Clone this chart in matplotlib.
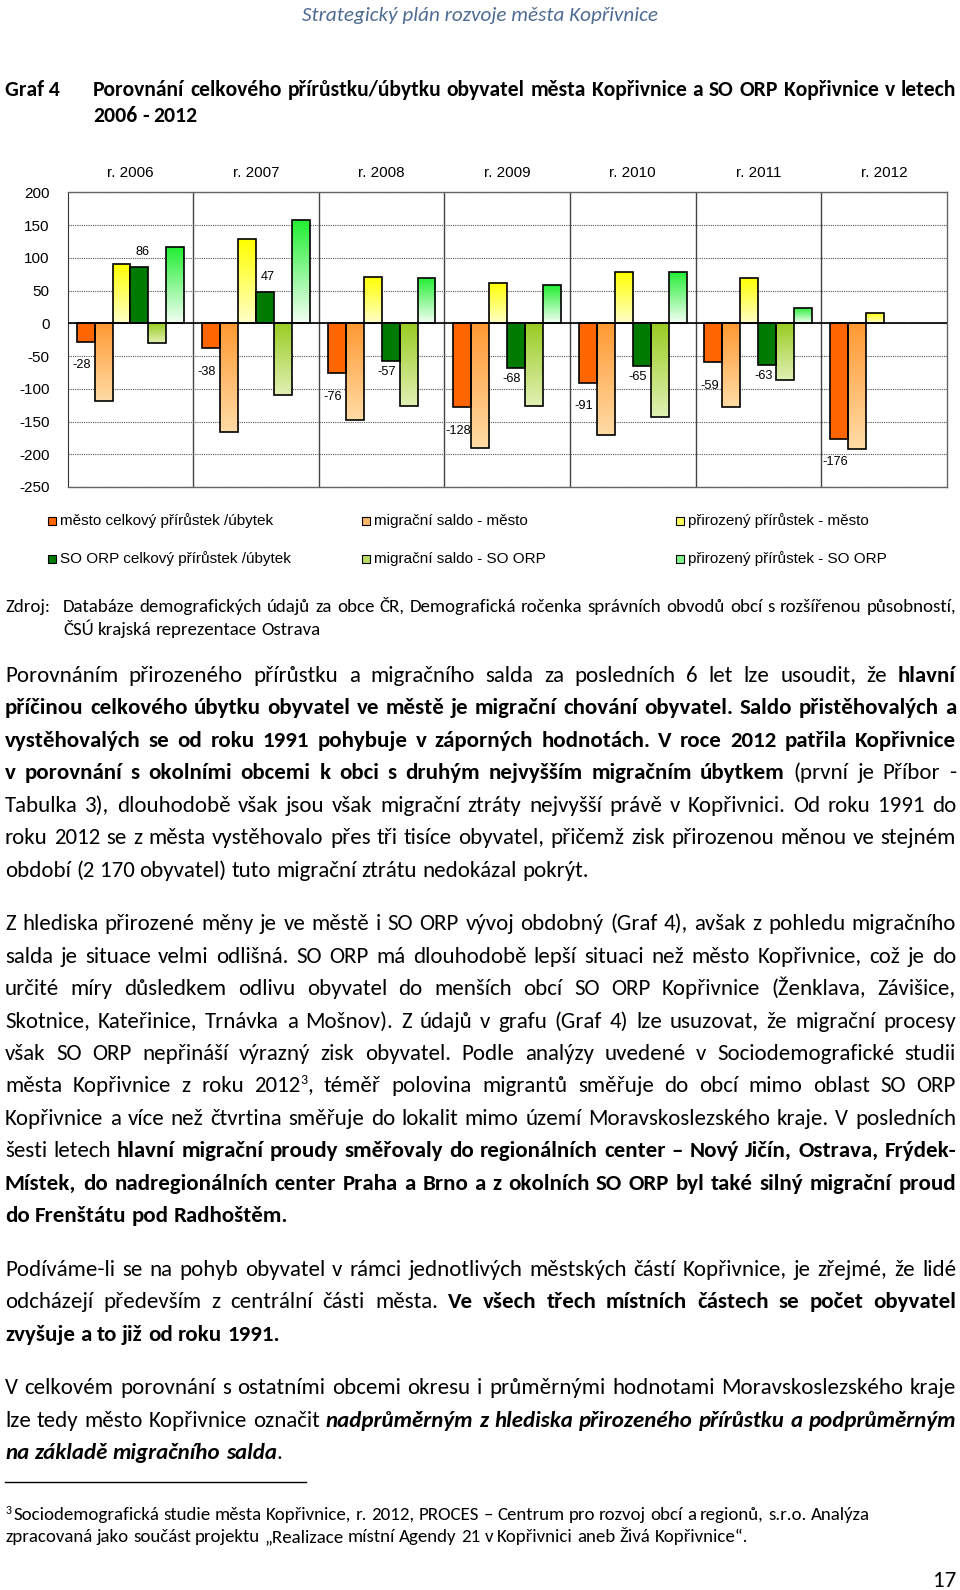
"""Graf 4 page: population change of Kopřivnice vs SO ORP 2006-2012, with the text below."""
import matplotlib

matplotlib.use("Agg")  # headless
import matplotlib.pyplot as plt  # noqa: E402
import numpy as np  # noqa: E402
from matplotlib import font_manager  # noqa: E402
from matplotlib.colors import LinearSegmentedColormap  # noqa: E402
from matplotlib.lines import Line2D  # noqa: E402
from matplotlib.patches import Rectangle  # noqa: E402

# ---- chart data ----
years = ["r. 2006", "r. 2007", "r. 2008", "r. 2009", "r. 2010", "r. 2011", "r. 2012"]
series = [
    "město celkový přírůstek /úbytek",
    "migrační saldo - město",
    "přirozený přírůstek - město",
    "SO ORP celkový přírůstek /úbytek",
    "migrační saldo - SO ORP",
    "přirozený přírůstek - SO ORP",
]
mesto_celkem = [-28, -38, -76, -128, -91, -59, -176]
mesto_migrace = [-119, -166, -147, -190, -170, -128, -192]
mesto_prirozeny = [91, 128, 71, 62, 79, 69, 16]
orp_celkem = [86, 47, -57, -68, -65, -63, np.nan]
orp_migrace = [-30, -110, -126, -126, -143, -87, np.nan]
orp_prirozeny = [116, 157, 69, 58, 78, 24, np.nan]
y_ticks = list(range(-250, 201, 50))

# (top colour, bottom colour) -> equal means solid fill
FILLS = [
    ("#ff6600", "#ff6600"),
    ("#ff9933", "#ffdca6"),
    ("#ffff00", "#ffffc8"),
    ("#007a00", "#007a00"),
    ("#99cc22", "#e2f0b4"),
    ("#22ee33", "#f4fff4"),
]

# ---- page text (markup: *bold*, _italic_, ^superscript^) ----
header = "Strategický plán rozvoje města Kopřivnice"
title_lines = [
    "Porovnání celkového přírůstku/úbytku obyvatel města Kopřivnice a SO ORP Kopřivnice v letech",
    "2006 - 2012",
]
source_lines = [
    "Databáze demografických údajů za obce ČR, Demografická ročenka správních obvodů obcí s rozšířenou působností,",
    "ČSÚ krajská reprezentace Ostrava",
]
paragraphs = [
    [
        "Porovnáním přirozeného přírůstku a migračního salda za posledních 6 let lze usoudit, že *hlavní*",
        "*příčinou celkového úbytku obyvatel ve městě je migrační chování obyvatel. Saldo přistěhovalých a*",
        "*vystěhovalých se od roku 1991 pohybuje v záporných hodnotách. V roce 2012 patřila Kopřivnice*",
        "*v porovnání s okolními obcemi k obci s druhým nejvyšším migračním úbytkem* (první je Příbor -",
        "Tabulka 3), dlouhodobě však jsou však migrační ztráty nejvyšší právě v Kopřivnici. Od roku 1991 do",
        "roku 2012 se z města vystěhovalo přes tři tisíce obyvatel, přičemž zisk přirozenou měnou ve stejném",
        "období (2 170 obyvatel) tuto migrační ztrátu nedokázal pokrýt.",
    ],
    [
        "Z hlediska přirozené měny je ve městě i SO ORP vývoj obdobný (Graf 4), avšak z pohledu migračního",
        "salda je situace velmi odlišná. SO ORP má dlouhodobě lepší situaci než město Kopřivnice, což je do",
        "určité míry důsledkem odlivu obyvatel do menších obcí SO ORP Kopřivnice (Ženklava, Závišice,",
        "Skotnice, Kateřinice, Trnávka a Mošnov). Z údajů v grafu (Graf 4) lze usuzovat, že migrační procesy",
        "však SO ORP nepřináší výrazný zisk obyvatel. Podle analýzy uvedené v Sociodemografické studii",
        "města Kopřivnice z roku 2012^3^, téměř polovina migrantů směřuje do obcí mimo oblast SO ORP",
        "Kopřivnice a více než čtvrtina směřuje do lokalit mimo území Moravskoslezského kraje. V posledních",
        "šesti letech *hlavní migrační proudy směřovaly do regionálních center – Nový Jičín, Ostrava, Frýdek-*",
        "*Místek, do nadregionálních center Praha a Brno a z okolních SO ORP byl také silný migrační proud*",
        "*do Frenštátu pod Radhoštěm.*",
    ],
    [
        "Podíváme-li se na pohyb obyvatel v rámci jednotlivých městských částí Kopřivnice, je zřejmé, že lidé",
        "odcházejí především z centrální části města. *Ve všech třech místních částech se počet obyvatel*",
        "*zvyšuje a to již od roku 1991.*",
    ],
    [
        "V celkovém porovnání s ostatními obcemi okresu i průměrnými hodnotami Moravskoslezského kraje",
        "lze tedy město Kopřivnice označit *_nadprůměrným z hlediska přirozeného přírůstku a podprůměrným_*",
        "*_na základě migračního salda_*.",
    ],
]
para_top = [674.5, 922.7, 1268.5, 1387.0]  # centre of first line, px from top
footnotes = [
    "Sociodemografická studie města Kopřivnice, r. 2012, PROCES – Centrum pro rozvoj obcí a regionů, s.r.o. Analýza",
    "zpracovaná jako součást projektu „Realizace místní Agendy 21 v Kopřivnici aneb Živá Kopřivnice“.",
]

W, H = 960, 1590
LEFT, RIGHT = 5.0, 956.0
PITCH = 32.45
PUNCT = ",.;:"

avail = {f.name for f in font_manager.fontManager.ttflist}
BODY = next((f for f in ["Carlito", "Lato", "Open Sans"] if f in avail), "DejaVu Sans")
ARIAL = "Liberation Sans" if "Liberation Sans" in avail else "DejaVu Sans"
BODY_FAM = [BODY, "DejaVu Sans"]
ARIAL_FAM = [ARIAL, "DejaVu Sans"]

fig = plt.figure(figsize=(W / 100, H / 100), dpi=100)
fig.patch.set_facecolor("white")
renderer = fig.canvas.get_renderer()


def fx(x):
    return x / W


def fy(y):
    # whole pixels keep word baselines on one line from jittering
    return 1 - round(y) / H


def text_width(s, **kw):
    t = fig.text(0, 0, s, **kw)
    w = t.get_window_extent(renderer).width
    t.remove()
    return w


def fit(s, target, **kw):
    return 10 * target / text_width(s, fontsize=10, **kw)


def style_kw(st, size):
    return dict(
        family=BODY_FAM,
        fontsize=size * (0.62 if "s" in st else 1),
        fontweight="bold" if "b" in st else "normal",
        fontstyle="italic" if "i" in st else "normal",
    )


_vshift = {}


def punct_vshift(t, st, size):
    """A trailing comma/period can move a word by a pixel when Agg rounds its
    bitmap; render the word with and without it and return the offset."""
    key = (t, st, round(size, 3))
    if key in _vshift:
        return _vshift[key]
    core = t.rstrip(PUNCT)
    shift = 0
    if core:
        kw = style_kw(st, size)
        scratch = plt.figure(figsize=(4.0, 1.0), dpi=100)
        scratch.text(0.02, 0.70, core, va="baseline", **kw)
        scratch.text(0.02, 0.20, t, va="baseline", **kw)
        scratch.canvas.draw()
        ink = np.asarray(scratch.canvas.buffer_rgba())[:, :, 0] < 140
        plt.close(scratch)
        r1 = np.where(ink[:50].any(axis=1))[0]
        r2 = np.where(ink[50:].any(axis=1))[0]
        if len(r1) and len(r2):
            shift = int(r2.min() - r1.min())
    _vshift[key] = shift
    return shift


def tokenize(line):
    """Split a marked-up line into words, each a list of (text, style) runs."""
    state = {"*": False, "_": False, "^": False}
    words, word = [], []
    for ch in line:
        if ch in state:
            state[ch] = not state[ch]
            continue
        st = ("b" if state["*"] else "") + ("i" if state["_"] else "") + ("s" if state["^"] else "")
        if ch == " ":
            if word:
                words.append(word)
                word = []
            continue
        if word and word[-1][1] == st:
            word[-1] = (word[-1][0] + ch, st)
        else:
            word.append((ch, st))
    if word:
        words.append(word)
    return words


def draw_line(line, x0, x1, baseline, size, justify, color="black", base_style=""):
    words = tokenize(line)
    words = [[(t, base_style + st) for t, st in w] for w in words]
    widths = [[text_width(t, **style_kw(st, size)) for t, st in w] for w in words]
    total = sum(sum(ws) for ws in widths)
    space = text_width("a a", **style_kw(base_style, size)) - text_width("aa", **style_kw(base_style, size))
    if justify and len(words) > 1:
        gap = (x1 - x0 - total) / (len(words) - 1)
    else:
        gap = space
    x = x0
    for w, ws in zip(words, widths):
        for (t, st), pw in zip(w, ws):
            dy = -0.38 * size * 100 / 72 if "s" in st else 0
            if t[-1] in PUNCT:
                dy -= punct_vshift(t, st, size)
            fig.text(fx(x), fy(baseline + dy), t, ha="left", va="baseline",
                     color=color, **style_kw(st, size))
            x += pw
        x += gap


# ---- header + chart title ----
hsize = fit(header, 354, family=BODY_FAM, fontstyle="italic")
fig.text(0.5, fy(21), header, ha="center", va="baseline", family=BODY_FAM,
         fontstyle="italic", fontsize=hsize, color="#4f6c93")

tsize = fit(title_lines[0], 858, family=BODY_FAM, fontweight="bold")
fig.text(fx(LEFT), fy(96), "Graf 4", ha="left", va="baseline", family=BODY_FAM,
         fontweight="bold", fontsize=tsize)
draw_line(title_lines[0], 93, RIGHT, 96, tsize, True, base_style="b")
draw_line(title_lines[1], 93, RIGHT, 121.5, tsize, False, base_style="b")

# ---- chart ----
ax = fig.add_axes([67.7 / W, 1 - 487 / H, 879 / W, 294.7 / H])
values = [mesto_celkem, mesto_migrace, mesto_prirozeny, orp_celkem, orp_migrace, orp_prirozeny]
x = np.arange(len(years))
width = 0.143
offsets = (np.arange(len(series)) - (len(series) - 1) / 2) * width

for k, (vals, name, (c_top, c_bot)) in enumerate(zip(values, series, FILLS)):
    solid = c_top == c_bot
    bars = ax.bar(x + offsets[k], vals, width, facecolor=c_top if solid else "none",
                  edgecolor="black", linewidth=1.2, zorder=2)
    if solid:
        continue
    cmap = LinearSegmentedColormap.from_list(f"g{k}", [c_top, c_bot])
    for b in bars:
        h = b.get_height()
        if not np.isfinite(h):
            continue
        y0 = b.get_y()
        im = ax.imshow(np.linspace(0, 1, 128).reshape(-1, 1), cmap=cmap, aspect="auto",
                       interpolation="bilinear", zorder=1.5,
                       extent=(b.get_x(), b.get_x() + b.get_width(), min(y0, y0 + h), max(y0, y0 + h)))
        im.set_clip_path(b)

for xi, v in zip(x + offsets[0], mesto_celkem):
    ax.annotate(f"{v:.0f}", (xi, v), xytext=(-3, -17), textcoords="offset points",
                ha="center", va="center", fontsize=9.2, family=ARIAL_FAM)
for xi, v in zip(x + offsets[3], orp_celkem):
    if not np.isfinite(v):
        continue
    ax.annotate(f"{v:.0f}", (xi, v), xytext=(2 if v > 0 else -3, 11 if v > 0 else -8),
                textcoords="offset points", ha="center", va="center", fontsize=9.2, family=ARIAL_FAM)

ax.set_xlim(-0.5, len(years) - 0.5)
ax.set_ylim(y_ticks[0], y_ticks[-1])
ax.set_yticks(y_ticks)
ax.set_yticklabels([str(t) for t in y_ticks], family=ARIAL_FAM, fontsize=11)
ax.set_xticks(x)
ax.set_xticklabels(years, family=ARIAL_FAM, fontsize=11)
ax.xaxis.set_ticks_position("top")
ax.set_xticks(x[:-1] + 0.5, minor=True)
ax.tick_params(axis="x", which="both", length=0, pad=9)
ax.tick_params(axis="y", length=0, pad=13)
ax.grid(axis="y", which="major", color="#555555", linestyle=(0, (1, 1)), linewidth=0.8)
ax.grid(axis="x", which="minor", color="#444444", linestyle="-", linewidth=1.0)
ax.set_axisbelow(True)
ax.axhline(0, color="black", linewidth=1.2, zorder=3)
for side in ["top", "right", "bottom"]:
    ax.spines[side].set_color("#666666")
    ax.spines[side].set_linewidth(1.0)
ax.spines["left"].set_color("#333333")

# ---- legend ----
lsize = fit(series[0], 214, family=ARIAL_FAM)
leg_x = [47.6, 362.0, 676.0]
leg_y = [521.0, 558.7]
for k, (name, (c_top, c_bot)) in enumerate(zip(series, FILLS)):
    col, row = k % 3, k // 3
    lx, ly = leg_x[col], leg_y[row]
    mid = c_top if c_top == c_bot else LinearSegmentedColormap.from_list("m", [c_top, c_bot])(0.45)
    fig.add_artist(Rectangle((fx(lx), fy(ly + 4)), 8 / W, 8 / H, transform=fig.transFigure,
                             facecolor=mid, edgecolor="black", linewidth=0.8))
    fig.text(fx(lx + 12), 1 - ly / H, name, ha="left", va="center", family=ARIAL_FAM, fontsize=lsize)

# ---- source ----
ssize = fit(source_lines[1], 259.5, family=BODY_FAM)
fig.text(fx(LEFT), fy(612), "Zdroj:", ha="left", va="baseline", family=BODY_FAM, fontsize=ssize)
draw_line(source_lines[0], 62.9, RIGHT, 612, ssize, True)
draw_line(source_lines[1], 62.9, RIGHT, 635.3, ssize, False)

# ---- body paragraphs ----
bsize = fit("období (2 170 obyvatel) tuto migrační ztrátu nedokázal pokrýt.", 584, family=BODY_FAM)
for lines, top in zip(paragraphs, para_top):
    for i, line in enumerate(lines):
        draw_line(line, LEFT, RIGHT, top + 7.5 + i * PITCH, bsize, i < len(lines) - 1)

# ---- footnote ----
fig.add_artist(Line2D([fx(LEFT), fx(306)], [fy(1482.5), fy(1482.5)], transform=fig.transFigure,
                      color="black", linewidth=1.0))
fsize = fit(footnotes[0], 859, family=BODY_FAM)
fig.text(fx(LEFT), fy(1514), "3", ha="left", va="baseline", family=BODY_FAM, fontsize=fsize * 0.62)
draw_line(footnotes[0], 13, RIGHT, 1519.5, fsize, False)
draw_line(footnotes[1], LEFT, RIGHT, 1542.5, fsize, False)

psize = fit("17", 23.3, family=BODY_FAM)
fig.text(fx(RIGHT), fy(1587), "17", ha="right", va="baseline", family=BODY_FAM, fontsize=psize)

fig.savefig("out.png", dpi=100, facecolor="white")
